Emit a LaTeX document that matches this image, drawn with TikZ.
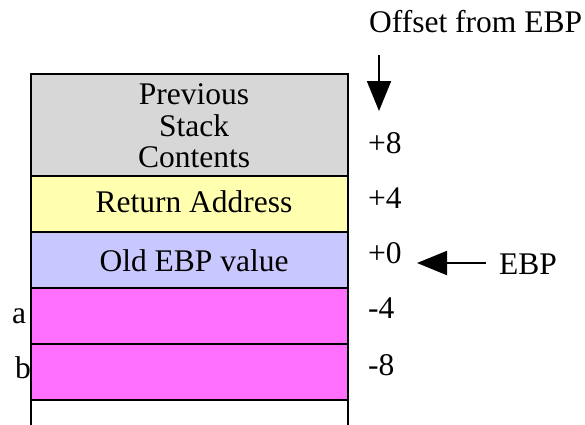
\documentclass[tikz,border=0pt]{standalone}
\usepackage{fontspec}
\setmainfont{Liberation Serif}
\usetikzlibrary{arrows.meta}
\definecolor{cgray}{HTML}{D7D7D7}
\definecolor{cyellow}{HTML}{FFFFAF}
\definecolor{clav}{HTML}{C8C8FF}
\definecolor{cmag}{HTML}{FF70FF}
\begin{document}
\begin{tikzpicture}[x=1pt,y=-1pt,
  cell/.style={draw=black,line width=2.5pt,rectangle,minimum width=317pt,inner sep=0pt,outer sep=0pt},
  txt/.style={anchor=base,inner sep=0pt,font=\fontsize{31.5}{31.5}\selectfont},
  lbl/.style={anchor=base west,inner sep=0pt,font=\fontsize{31.5}{31.5}\selectfont},
  arr/.style={line width=2pt,-{Triangle[length=30pt,width=24pt]}}]
\useasboundingbox (0,0) rectangle (585,424);
\node[cell,fill=cgray,minimum height=102pt] (c1) at (189.5,125) {};
\node[cell,fill=cyellow,minimum height=56pt] (c2) at (189.5,204) {};
\node[cell,fill=clav,minimum height=56pt] (c3) at (189.5,260) {};
\node[cell,fill=cmag,minimum height=56pt] (c4) at (189.5,316) {};
\node[cell,fill=cmag,minimum height=56pt] (c5) at (189.5,372) {};
\coordinate (bl) at (31,426);
\coordinate (br) at (348,426);
\draw[line width=2.5pt] (c5.south west) -- (bl);
\draw[line width=2.5pt] (c5.south east) -- (br);
\node[anchor=center,inner sep=0pt,align=center,font=\fontsize{31.5}{31.5}\selectfont] (t1) at (194,126) {Previous\\Stack\\Contents};
\node[txt] (t2) at (194,212) {Return Address};
\node[txt] (t3) at (194,271) {Old EBP value};
\node[lbl] (o8) at (368,153) {+8};
\node[lbl] (o4) at (368,208) {+4};
\node[lbl] (o0) at (368,263) {+0};
\node[lbl] (om4) at (368,318) {-4};
\node[lbl] (om8) at (368,375) {-8};
\node[lbl] (la) at (12,323) {a};
\node[lbl] (lb) at (15,378) {b};
\node[lbl] (hdr) at (369,32) {Offset from EBP};
\node[lbl] (ebp) at (499,274) {EBP};
\coordinate (dtop) at (379,55);
\coordinate (dtip) at (379,111);
\draw[arr] (dtop) -- (dtip);
\coordinate (etail) at (486,263);
\coordinate (etip) at (417,263);
\draw[arr] (etail) -- (etip);
\end{tikzpicture}
\end{document}
